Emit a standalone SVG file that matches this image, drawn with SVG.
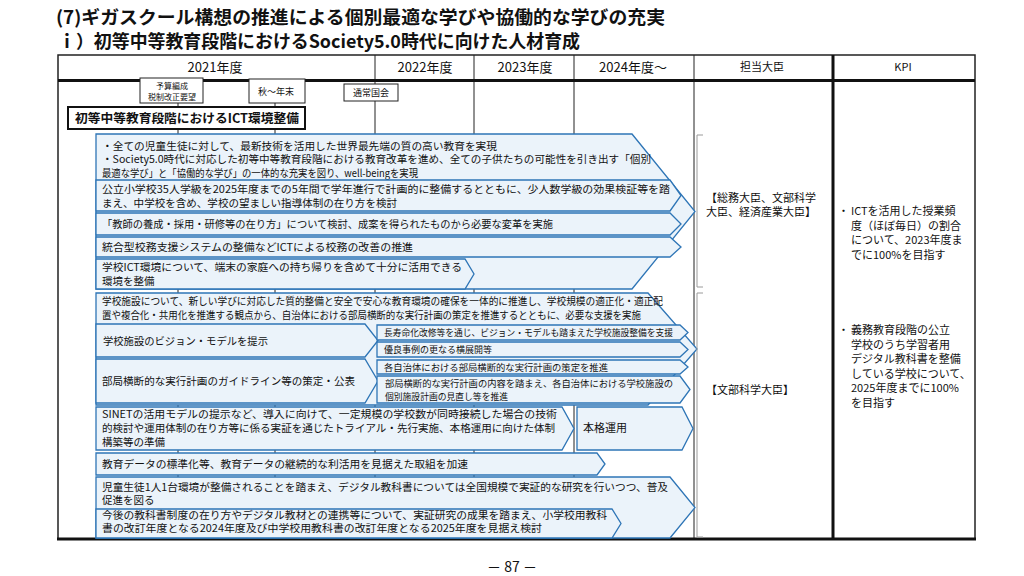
<svg xmlns="http://www.w3.org/2000/svg" width="1024" height="576" viewBox="0 0 1024 576">
<defs>
<style>
text{font-family:"Noto Sans CJK JP","Noto Sans",sans-serif;fill:#111}
.ttl{font-size:18px;font-weight:bold}
.hd{font-size:13px;text-anchor:middle}
.hs{font-size:11px;text-anchor:middle}
.sb{font-size:8px;text-anchor:middle}
.sm{font-size:9px;text-anchor:middle}
.r{font-size:10.5px}
.s{font-size:9px}
.k{font-size:11px}
.ch{fill:#EBF3FA;stroke:#2E75B6;stroke-width:1.3;stroke-linejoin:miter}
.grid{stroke:#222;stroke-width:1}
.box{fill:#fff;stroke:#222;stroke-width:1}
.br{fill:none;stroke:#9a9a9a;stroke-width:1}
</style>
</defs>
<rect width="1024" height="576" fill="#fff"/>

<g id="title">
<text class="ttl" x="56" y="24" textLength="609" lengthAdjust="spacingAndGlyphs">(7)ギガスクール構想の推進による個別最適な学びや協働的な学びの充実</text>
<text class="ttl" x="58" y="48" textLength="522" lengthAdjust="spacingAndGlyphs">ｉ）初等中等教育段階におけるSociety5.0時代に向けた人材育成</text>
</g>

<g id="table">
<rect x="58" y="55" width="917" height="484" fill="none" stroke="#222" stroke-width="1.5"/>
<line class="grid" x1="375" y1="55" x2="375" y2="539"/>
<line class="grid" x1="474" y1="55" x2="474" y2="539"/>
<line class="grid" x1="574" y1="55" x2="574" y2="539"/>
<line class="grid" x1="694" y1="55" x2="694" y2="539"/>
<line x1="833" y1="55" x2="833" y2="539" stroke="#111" stroke-width="3"/>
<line x1="58" y1="80.5" x2="975" y2="80.5" stroke="#111" stroke-width="3"/>
<line x1="57" y1="539" x2="976" y2="539" stroke="#111" stroke-width="3"/>
<text class="hd" x="215" y="72">2021年度</text>
<text class="hd" x="425" y="72">2022年度</text>
<text class="hd" x="525" y="72">2023年度</text>
<text class="hd" x="633" y="72">2024年度～</text>
<text class="hs" x="762" y="71">担当大臣</text>
<text class="hs" x="903" y="71">KPI</text>
</g>

<g id="connectors">
<line class="grid" x1="178" y1="103" x2="178" y2="539"/>
<line class="grid" x1="275" y1="103" x2="275" y2="539"/>
</g>

<g id="milestone-budget">
<rect class="box" x="140" y="78" width="63" height="25"/>
<text class="sb" x="172" y="89">予算編成</text>
<text class="sb" x="172" y="100">税制改正要望</text>
</g>
<g id="milestone-autumn">
<rect class="box" x="249" y="79" width="56" height="24"/>
<text class="sm" x="276" y="95">秋～年末</text>
</g>
<g id="milestone-diet">
<rect class="box" x="344" y="84" width="54" height="17"/>
<text class="sm" x="371" y="95.5">通常国会</text>
</g>

<g id="ict-heading">
<rect x="68" y="107" width="237" height="22" fill="#fff" stroke="#111" stroke-width="2"/>
<text x="75" y="123" font-size="12.5" font-weight="bold" textLength="224" lengthAdjust="spacingAndGlyphs">初等中等教育段階におけるICT環境整備</text>
</g>

<g id="group1">
<polygon class="ch" points="96,134 632,134 695,211.5 632,289 96,289"/>
<text class="r" x="102" y="150" textLength="395" lengthAdjust="spacingAndGlyphs">・全ての児童生徒に対して、最新技術を活用した世界最先端の質の高い教育を実現</text>
<text class="r" x="102" y="163" textLength="549" lengthAdjust="spacingAndGlyphs">・Society5.0時代に対応した初等中等教育段階における教育改革を進め、全ての子供たちの可能性を引き出す「個別</text>
<text class="r" x="102" y="177" textLength="316" lengthAdjust="spacingAndGlyphs">最適な学び」と「協働的な学び」の一体的な充実を図り、well-beingを実現</text>
</g>
<g id="row-b">
<polygon class="ch" points="96,180 670,180 681,195.5 670,211 96,211"/>
<text class="r" x="102" y="193" textLength="568" lengthAdjust="spacingAndGlyphs">公立小学校35人学級を2025年度までの5年間で学年進行で計画的に整備するとともに、少人数学級の効果検証等を踏</text>
<text class="r" x="102" y="207" textLength="295" lengthAdjust="spacingAndGlyphs">まえ、中学校を含め、学校の望ましい指導体制の在り方を検討</text>
</g>
<g id="row-c">
<polygon class="ch" points="96,213 670,213 681,224 670,235 96,235"/>
<text class="r" x="102" y="228" textLength="451" lengthAdjust="spacingAndGlyphs">「教師の養成・採用・研修等の在り方」について検討、成案を得られたものから必要な変革を実施</text>
</g>
<g id="row-d">
<polygon class="ch" points="96,237 670,237 681,247 670,257 96,257"/>
<text class="r" x="102" y="251" textLength="311" lengthAdjust="spacingAndGlyphs">統合型校務支援システムの整備などICTによる校務の改善の推進</text>
</g>
<g id="row-e">
<polygon class="ch" points="96,259 465,259 474,274 465,289 96,289"/>
<text class="r" x="102" y="271" textLength="360" lengthAdjust="spacingAndGlyphs">学校ICT環境について、端末の家庭への持ち帰りを含めて十分に活用できる</text>
<text class="r" x="102" y="285">環境を整備</text>
</g>

<g id="group2">
<polygon class="ch" points="96,293 648,293 697,349 648,405 96,405"/>
<text class="r" x="102" y="305" font-size="10" textLength="561" lengthAdjust="spacingAndGlyphs">学校施設について、新しい学びに対応した質的整備と安全で安心な教育環境の確保を一体的に推進し、学校規模の適正化・適正配</text>
<text class="r" x="102" y="319" font-size="10" textLength="539" lengthAdjust="spacingAndGlyphs">置や複合化・共用化を推進する観点から、自治体における部局横断的な実行計画の策定を推進するとともに、必要な支援を実施</text>
</g>
<g id="row-g">
<polygon class="ch" points="96,324 365,324 378,340.5 365,357 96,357"/>
<text class="r" x="103" y="345" textLength="165" lengthAdjust="spacingAndGlyphs">学校施設のビジョン・モデルを提示</text>
</g>
<g id="row-h">
<polygon class="ch" points="96,359 365,359 378,381 365,403 96,403"/>
<text class="r" x="102" y="385" textLength="253" lengthAdjust="spacingAndGlyphs">部局横断的な実行計画のガイドライン等の策定・公表</text>
</g>
<g id="sub-1">
<polygon class="ch" points="377,325 680,325 688,332.5 680,340 377,340"/>
<text class="s" x="384" y="336" textLength="289" lengthAdjust="spacingAndGlyphs">長寿命化改修等を通じ、ビジョン・モデルも踏まえた学校施設整備を支援</text>
</g>
<g id="sub-2">
<polygon class="ch" points="377,342 680,342 688,349.5 680,357 377,357"/>
<text class="s" x="384" y="353">優良事例の更なる横展開等</text>
</g>
<g id="sub-3">
<polygon class="ch" points="377,360 680,360 688,367 680,374 377,374"/>
<text class="s" x="384" y="370.5" textLength="224" lengthAdjust="spacingAndGlyphs">各自治体における部局横断的な実行計画の策定を推進</text>
</g>
<g id="sub-4">
<polygon class="ch" points="377,376 680,376 690,389.5 680,403 377,403"/>
<text class="s" x="385" y="387" textLength="288" lengthAdjust="spacingAndGlyphs">部局横断的な実行計画の内容を踏まえ、各自治体における学校施設の</text>
<text class="s" x="385" y="400" textLength="123" lengthAdjust="spacingAndGlyphs">個別施設計画の見直し等を推進</text>
</g>

<g id="row-i">
<polygon class="ch" points="96,407 562,407 574,428.5 562,450 96,450"/>
<text class="r" x="102" y="418" textLength="455" lengthAdjust="spacingAndGlyphs">SINETの活用モデルの提示など、導入に向けて、一定規模の学校数が同時接続した場合の技術</text>
<text class="r" x="102" y="432" textLength="453" lengthAdjust="spacingAndGlyphs">的検討や運用体制の在り方等に係る実証を通じたトライアル・先行実施、本格運用に向けた体制</text>
<text class="r" x="102" y="446">構築等の準備</text>
</g>
<g id="row-i2">
<polygon class="ch" points="577,407 682,407 693,428.5 682,450 577,450"/>
<text class="k" x="583" y="432">本格運用</text>
</g>
<g id="row-j">
<polygon class="ch" points="96,453 597,453 605,464 597,475 96,475"/>
<text class="r" x="102" y="468" textLength="366" lengthAdjust="spacingAndGlyphs">教育データの標準化等、教育データの継続的な利活用を見据えた取組を加速</text>
</g>
<g id="row-k">
<polygon class="ch" points="96,477 670,477 695,507.5 670,538 96,538"/>
<text class="r" x="102" y="491" textLength="566" lengthAdjust="spacingAndGlyphs">児童生徒1人1台環境が整備されることを踏まえ、デジタル教科書については全国規模で実証的な研究を行いつつ、普及</text>
<text class="r" x="102" y="504">促進を図る</text>
</g>
<g id="row-l">
<polygon class="ch" points="96,509 612,509 621,523.5 612,538 96,538"/>
<text class="r" x="102" y="519" textLength="505" lengthAdjust="spacingAndGlyphs">今後の教科書制度の在り方やデジタル教材との連携等について、実証研究の成果を踏まえ、小学校用教科</text>
<text class="r" x="102" y="532" textLength="440" lengthAdjust="spacingAndGlyphs">書の改訂年度となる2024年度及び中学校用教科書の改訂年度となる2025年度を見据え検討</text>
</g>

<g id="minister-1">
<polyline class="br" points="703,135 697,135 697,287 703,287"/>
<text class="k" x="706" y="202">【総務大臣、文部科学</text>
<text class="k" x="706" y="216">大臣、経済産業大臣】</text>
</g>
<g id="minister-2">
<polyline class="br" points="703,293 697,293 697,537 703,537"/>
<text class="k" x="706" y="394">【文部科学大臣】</text>
</g>

<g id="kpi-1">
<text class="k" x="838" y="215">・</text>
<text class="k" x="851" y="215">ICTを活用した授業頻</text>
<text class="k" x="851" y="229.5">度（ほぼ毎日）の割合</text>
<text class="k" x="851" y="244">について、2023年度ま</text>
<text class="k" x="851" y="258.5">でに100%を目指す</text>
</g>
<g id="kpi-2">
<text class="k" x="838" y="334">・</text>
<text class="k" x="851" y="334">義務教育段階の公立</text>
<text class="k" x="851" y="348.5">学校のうち学習者用</text>
<text class="k" x="851" y="363">デジタル教科書を整備</text>
<text class="k" x="851" y="377.5">している学校について、</text>
<text class="k" x="851" y="392">2025年度までに100%</text>
<text class="k" x="851" y="406.5">を目指す</text>
</g>

<text x="512" y="572" font-size="14" text-anchor="middle">－ 87 －</text>
</svg>
